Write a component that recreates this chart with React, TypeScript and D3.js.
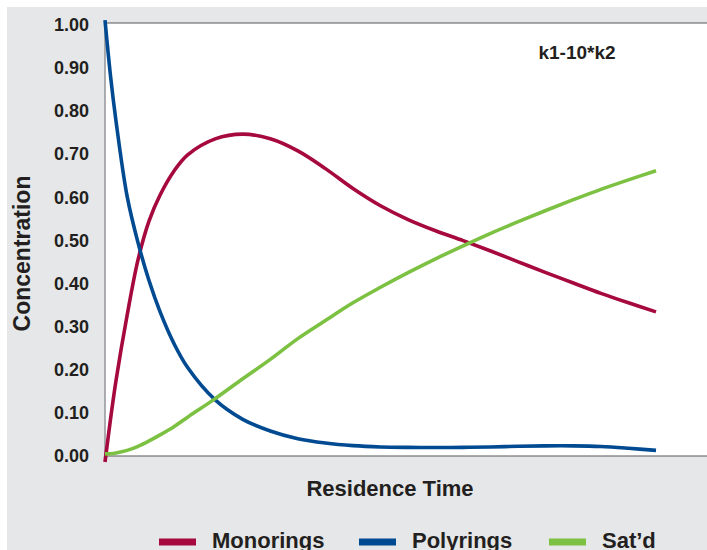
import React from "react";
import * as d3 from "d3";

const times = [0, 0.1, 0.2, 0.4, 0.6, 0.8, 1.0, 1.25, 1.5, 2, 2.5, 3, 3.5, 4, 4.5, 5, 5.5, 6, 6.5, 7, 7.5, 8, 8.5, 9, 9.5, 10];

const monorings = [-0.014, 0.085, 0.175, 0.325, 0.455, 0.545, 0.605, 0.66, 0.698, 0.735, 0.746, 0.735, 0.707, 0.666, 0.62, 0.58, 0.548, 0.522, 0.499, 0.475, 0.45, 0.425, 0.401, 0.377, 0.355, 0.334];
const polyrings = [1.01, 0.881, 0.776, 0.603, 0.494, 0.406, 0.334, 0.261, 0.205, 0.13, 0.085, 0.058, 0.04, 0.03, 0.024, 0.021, 0.02, 0.0198, 0.02, 0.021, 0.0225, 0.0235, 0.0235, 0.022, 0.018, 0.013];
const satd = [0.005, 0.0054, 0.007, 0.013, 0.0225, 0.035, 0.049, 0.068, 0.09, 0.133, 0.179, 0.224, 0.272, 0.314, 0.355, 0.391, 0.425, 0.457, 0.487, 0.516, 0.543, 0.569, 0.594, 0.618, 0.64, 0.661];

const yTicks = [0, 0.1, 0.2, 0.3, 0.4, 0.5, 0.6, 0.7, 0.8, 0.9, 1.0];

const seriesNames = ["Monorings", "Polyrings", "Sat\u2019d"];
const seriesColors = ["#a6093d", "#004a92", "#7cc142"];
const seriesData = [monorings, polyrings, satd];

const annotation = "k1-10*k2";
const xTitle = "Residence Time";
const yTitle = "Concentration";

export default function App() {
  const W = 707;
  const H = 550;
  const left = 105;
  const right = 707;
  const top = 23;
  const bottom = 456;

  const x = d3.scaleLinear().domain([0, 10]).range([105, 656]);
  const y = d3.scaleLinear().domain([0, 1]).range([bottom, 24.5]);

  const line = d3
    .line<number>()
    .x((_, i) => x(times[i]))
    .y((d) => y(d))
    .curve(d3.curveCatmullRom.alpha(0.5));

  const font = "'Liberation Sans', Arial, Helvetica, sans-serif";
  const legendX = [159, 359, 549];

  return (
    <svg width={W} height={H} style={{ position: "absolute", left: 0, top: 0 }} fontFamily={font}>
      <rect x={7} y={7} width={W - 7} height={H - 7} fill="#e6e7e8" />
      <rect x={left} y={top} width={right - left} height={bottom - top} fill="#ffffff" />
      <line x1={left} x2={right} y1={top} y2={top} stroke="#58595b" strokeWidth={1.2} />
      <line x1={left} x2={right} y1={bottom} y2={bottom} stroke="#58595b" strokeWidth={1.2} />
      <line x1={left} x2={left} y1={top} y2={bottom} stroke="#939598" strokeWidth={1.5} />

      {yTicks.map((t) => (
        <text
          key={t}
          x={89}
          y={y(t)}
          dy="0.36em"
          textAnchor="end"
          fontSize={18}
          fontWeight="bold"
          fill="#231f20"
        >
          {t.toFixed(2)}
        </text>
      ))}

      {seriesData.map((s, i) => (
        <path key={i} d={line(s) || ""} fill="none" stroke={seriesColors[i]} strokeWidth={3.6} />
      ))}

      <text x={577} y={59} textAnchor="middle" fontSize={19} fontWeight="bold" fill="#231f20">
        {annotation}
      </text>

      <text x={390} y={496} textAnchor="middle" fontSize={22} fontWeight="bold" fill="#231f20">
        {xTitle}
      </text>

      <text
        transform={`translate(30,${253.5}) rotate(-90)`}
        textAnchor="middle"
        fontSize={23}
        fontWeight="bold"
        fill="#231f20"
      >
        {yTitle}
      </text>

      {seriesNames.map((n, i) => (
        <g key={n}>
          <rect x={legendX[i]} y={538.5} width={37} height={7} fill={seriesColors[i]} />
          <text x={legendX[i] + 53} y={548} fontSize={22} fontWeight="bold" fill="#231f20">
            {n}
          </text>
        </g>
      ))}
    </svg>
  );
}
